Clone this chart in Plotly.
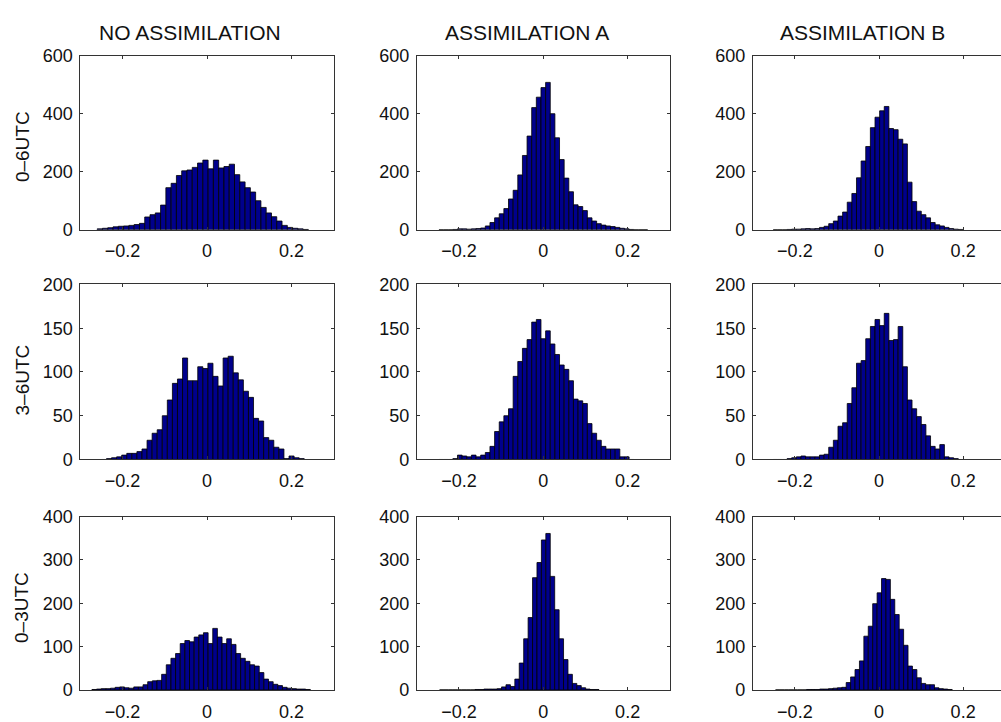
import plotly.graph_objects as go

# ---------------- data ----------------
col_titles = ["NO ASSIMILATION", "ASSIMILATION A", "ASSIMILATION B"]
row_titles = ["0–6UTC", "3–6UTC", "0–3UTC"]
y_max = [600, 200, 400]
y_dtick = [200, 50, 100]
x_tick_vals = [-0.2, 0, 0.2]

# histogram bins: first bin edge, bin width, counts per bin
no_0_6_start, no_0_6_width = -0.26, 0.0125
no_0_6_counts = [3, 5, 7, 10, 12, 13, 15, 18, 22, 44, 52, 58, 85, 145, 160, 187, 203, 206, 215, 230,
                 240, 210, 240, 213, 218, 226, 190, 165, 145, 130, 100, 77, 58, 45, 30, 15, 8, 5, 3, 1]

a_0_6_start, a_0_6_width = -0.2475, 0.011
a_0_6_counts = [0, 0, 0, 1, 3, 3, 2, 3, 4, 6, 13, 25, 41, 55, 73, 106, 136, 189, 256, 323,
                421, 457, 490, 508, 400, 317, 242, 178, 131, 86, 80, 66, 41, 30, 21, 16, 13, 11, 8, 5,
                3, 1, 0, 0, 0]

b_0_6_start, b_0_6_width = -0.2515, 0.011
b_0_6_counts = [0, 0, 0, 1, 2, 2, 3, 4, 3, 4, 8, 12, 21, 30, 47, 61, 95, 125, 179, 237,
                287, 352, 388, 410, 425, 349, 345, 312, 296, 164, 97, 64, 52, 41, 25, 17, 13, 8, 4, 2, 1]

no_3_6_start, no_3_6_width = -0.25, 0.012
no_3_6_counts = [0, 1, 2, 3, 5, 7, 7, 9, 12, 22, 30, 34, 50, 68, 87, 92, 116, 90, 90, 106,
                 104, 110, 95, 84, 116, 118, 99, 91, 78, 71, 47, 44, 25, 22, 14, 12, 1, 4, 2, 1]

a_3_6_start, a_3_6_width = -0.2475, 0.011
a_3_6_counts = [0, 0, 0, 1, 5, 4, 3, 5, 3, 5, 8, 15, 32, 43, 50, 58, 95, 112, 127, 137,
                157, 160, 138, 147, 132, 120, 108, 103, 90, 69, 67, 64, 41, 30, 22, 15, 12, 12, 12, 3,
                3, 0]

b_3_6_start, b_3_6_width = -0.2515, 0.011
b_3_6_counts = [0, 0, 0, 1, 2, 3, 4, 3, 3, 3, 5, 6, 14, 22, 38, 42, 64, 82, 110, 113,
                138, 152, 160, 153, 167, 136, 137, 152, 106, 68, 58, 49, 40, 27, 15, 12, 17, 3, 2, 1]

no_0_3_start, no_0_3_width = -0.2725, 0.011
no_0_3_counts = [1, 2, 3, 3, 4, 6, 7, 5, 4, 7, 7, 12, 19, 21, 22, 36, 58, 73, 84, 107,
                 114, 111, 122, 127, 132, 107, 142, 122, 107, 118, 105, 84, 73, 66, 58, 55, 40, 25, 19, 13,
                 10, 6, 4, 3, 2, 2, 1]

a_0_3_start, a_0_3_width = -0.246, 0.0105
a_0_3_counts = [0, 0, 0, 0, 0, 0, 0, 0, 1, 1, 2, 2, 2, 3, 7, 12, 8, 25, 62, 118,
                167, 259, 294, 346, 361, 262, 185, 118, 70, 36, 15, 10, 5, 2, 1, 1]

b_0_3_start, b_0_3_width = -0.246, 0.0105
b_0_3_counts = [0, 0, 0, 0, 0, 0, 0, 1, 1, 1, 2, 2, 3, 4, 5, 6, 17, 30, 47, 67,
                124, 147, 199, 224, 257, 255, 209, 174, 140, 103, 55, 47, 28, 15, 12, 12, 5, 3, 2, 1]

panels = [
    [(no_0_6_start, no_0_6_width, no_0_6_counts), (a_0_6_start, a_0_6_width, a_0_6_counts), (b_0_6_start, b_0_6_width, b_0_6_counts)],
    [(no_3_6_start, no_3_6_width, no_3_6_counts), (a_3_6_start, a_3_6_width, a_3_6_counts), (b_3_6_start, b_3_6_width, b_3_6_counts)],
    [(no_0_3_start, no_0_3_width, no_0_3_counts), (a_0_3_start, a_0_3_width, a_0_3_counts), (b_0_3_start, b_0_3_width, b_0_3_counts)],
]

# ---------------- layout geometry (pixels) ----------------
W, H = 1001, 722
col_px = [(80.3, 333.8), (416.8, 669.8), (752.8, 1001.0)]
col_xmax = [0.3, 0.3, 0.29]
row_px = [(47.0, 226.0), (282.3, 462.3), (521.0, 699.3)]
title_cx = [190, 527, 862]
title_cy = 23
rowlabel_cx = 22
rowlabel_cy = [141, 381, 615]

FONT = "Liberation Sans, Arial, Helvetica, sans-serif"
AXC = "#333333"
TXC = "#111111"

fig = go.Figure()
layout = dict(
    width=W, height=H, autosize=False,
    margin=dict(l=0, r=0, t=0, b=0),
    paper_bgcolor="white", plot_bgcolor="white",
    showlegend=False, barmode="overlay",
    font=dict(family=FONT, color=TXC),
)

for r in range(3):
    for c in range(3):
        k = r * 3 + c + 1
        xn = "x" if k == 1 else f"x{k}"
        yn = "y" if k == 1 else f"y{k}"
        start, width, counts = panels[r][c]
        centers = [start + width * (i + 0.5) for i in range(len(counts))]
        fig.add_trace(go.Bar(
            x=centers, y=counts, width=width,
            marker=dict(color="#00008c", line=dict(color="black", width=0.8)),
            xaxis=xn, yaxis=yn, hoverinfo="x+y",
        ))
        x0, x1 = col_px[c]
        ytop, ybot = row_px[r]
        layout["xaxis" if k == 1 else f"xaxis{k}"] = dict(
            domain=[x0 / W, x1 / W], anchor=yn, range=[-0.3, col_xmax[c]],
            tickvals=x_tick_vals, ticks="inside", ticklen=3, tickwidth=1, tickcolor=AXC,
            showline=True, linecolor=AXC, linewidth=1, mirror="ticks",
            showgrid=False, zeroline=False, ticklabelstandoff=5,
            tickfont=dict(size=18, family=FONT, color=TXC),
        )
        layout["yaxis" if k == 1 else f"yaxis{k}"] = dict(
            domain=[1 - ybot / H, 1 - ytop / H], anchor=xn, range=[0, y_max[r]],
            dtick=y_dtick[r], tick0=0, ticks="inside", ticklen=3, tickwidth=1, tickcolor=AXC,
            showline=True, linecolor=AXC, linewidth=1, mirror=("ticks" if c < 2 else False),
            showgrid=False, zeroline=False, ticklabelstandoff=3,
            tickfont=dict(size=18, family=FONT, color=TXC),
        )

annotations = []
for c in range(3):
    annotations.append(dict(
        text=col_titles[c], xref="paper", yref="paper",
        x=title_cx[c] / W, y=1 - title_cy / H, xanchor="center", yanchor="middle",
        showarrow=False, font=dict(size=21, family=FONT, color=TXC),
    ))
for r in range(3):
    annotations.append(dict(
        text=row_titles[r], xref="paper", yref="paper",
        x=rowlabel_cx / W, y=1 - rowlabel_cy[r] / H, xanchor="center", yanchor="middle",
        textangle=-90, showarrow=False, font=dict(size=19, family=FONT, color=TXC),
    ))
layout["annotations"] = annotations

fig.update_layout(**layout)
fig.write_html("out.html")
